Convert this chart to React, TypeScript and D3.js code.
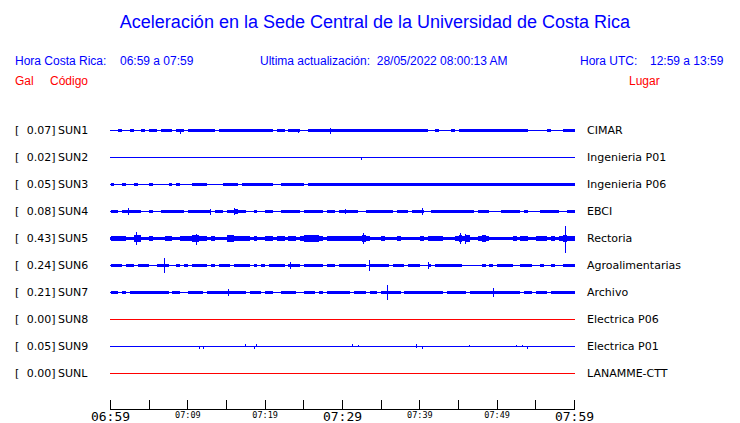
import React from "react";
import * as d3 from "d3";

const title = "Aceleración en la Sede Central de la Universidad de Costa Rica";
const crLabel = "Hora Costa Rica:";
const crRange = "06:59 a 07:59";
const updLabel = "Ultima actualización:  28/05/2022 08:00:13 AM";
const utcLabel = "Hora UTC:";
const utcRange = "12:59 a 13:59";
const colHeads = ["Gal", "Código", "Lugar"];

const codes = ["SUN1", "SUN2", "SUN3", "SUN4", "SUN5", "SUN6", "SUN7", "SUN8", "SUN9", "SUNL"];
const places = ["CIMAR", "Ingenieria P01", "Ingenieria P06", "EBCI", "Rectoria", "Agroalimentarias", "Archivo", "Electrica P06", "Electrica P01", "LANAMME-CTT"];
const peaks = [0.07, 0.02, 0.05, 0.08, 0.43, 0.24, 0.21, 0.0, 0.05, 0.0];
// base noise half-thickness per station (amplitude units)
const baseNoise = [0.5, 0.5, 0.5, 0.5, 1.5, 0.5, 0.5, 0.5, 0.5, 0.5];

// envelope level per 30-second bin (120 bins over the hour)
const envSUN1 = ["00100100", "10110", "11101101", "1111110111111", "22212221", "01101110", "011121122121", "11111211111211112111", "00100010", "11111111121111111100", "0001000111"];
const envSUN2 = [""];
const envSUN3 = ["1001001000100", "001010001111", "00001111011111111", "00111111011111111111", "1112111111", "1111211111", "1111111121", "1111111111", "1121111111", "11111111"];
const envSUN4 = ["1102211100100", "111211011222", "10110223220010011", "00111110222120110111", "11001112111011101120", "0", "11111111111", "0", "111", "00", "0", "11111", "0", "1", "000", "11111", "00", "11"];
const envSUN5 = ["2222", "00", "33", "00100", "0", "11", "00", "11", "2332", "1", "01000", "33", "1", "222", "0100", "11", "0", "22", "0", "22", "01", "3333", "10", "222221", "1", "2232", "000", "1", "00010000", "0", "1", "0", "1211", "000", "2323", "0", "0", "232", "000000", "1", "0", "11", "00", "222", "0", "1", "0", "232", "1"];
const envSUN6 = ["1110110111001", "220010101111", "01011101111010101", "121", "0", "21", "1", "0", "111", "11", "0", "1", "1", "0", "111", "1111", "0", "2", "11110", "111", "0111", "00", "2", "0", "1111111", "00000", "1", "0", "1", "0", "1111", "00", "111", "00", "1", "00", "1", "00", "111"];
const envSUN7 = ["11010", "11", "22211", "1", "11", "0", "1", "1", "0", "0", "1", "11", "1", "0", "111", "1121", "1", "11", "0", "1", "11", "0", "11", "0", "0", "1111", "00", "1", "11", "010", "222211", "0", "111", "0", "11", "0", "1", "2", "111", "0", "111111", "1111", "0", "1", "1111", "0", "11111", "12211", "111", "0", "11", "0", "111", "0", "111111"];
const envSUN8 = [""];
const envSUN9 = [""];
const envSUNL = [""];
const envelopes = [envSUN1, envSUN2, envSUN3, envSUN4, envSUN5, envSUN6, envSUN7, envSUN8, envSUN9, envSUNL];

// isolated spikes: [minute, up, down]
const spikesSUN1 = [[9.0, 0, 3], [24.3, 0, 2], [28.4, 2, 3]];
const spikesSUN2 = [[32.4, 0, 2]];
const spikesSUN3: number[][] = [];
const spikesSUN4 = [[2.2, 3, 3], [12.9, 2, 3], [16.0, 3, 3], [30.3, 2, 2], [40.3, 3, 3]];
const spikesSUN5 = [[3.35, 5, 5], [11.1, 3, 5], [32.6, 4, 4], [45.2, 4, 4], [45.9, 3, 4], [58.8, 11, 13]];
const spikesSUN6 = [[6.97, 7, 7], [23.2, 3, 3], [33.4, 5, 5], [41.0, 3, 3]];
const spikesSUN7 = [[15.2, 3, 3], [35.7, 7, 7], [49.4, 4, 4]];
const spikesSUN8: number[][] = [];
const spikesSUN9 = [[11.5, 0, 2], [11.9, 0, 2], [17.4, 2, 0], [18.5, 0, 2], [18.8, 2, 0], [31.2, 2, 0], [32.0, 1, 0], [39.5, 2, 1], [40.3, 0, 2], [46.3, 1, 0], [52.4, 1, 0], [53.2, 1, 0], [53.9, 0, 2]];
const spikesSUNL: number[][] = [];
const spikes = [spikesSUN1, spikesSUN2, spikesSUN3, spikesSUN4, spikesSUN5, spikesSUN6, spikesSUN7, spikesSUN8, spikesSUN9, spikesSUNL];

const spanMinutes = 60;
const binsPerMinute = 2;
const tickMinutes = d3.range(0, 61, 5);
const startTime = new Date(2022, 4, 28, 6, 59);

const BLUE = "#0000ff";
const RED = "#ff0000";

export default function App() {
  const W = 740, H = 423;
  const x = d3.scaleLinear().domain([0, spanMinutes]).range([110.5, 574.5]);
  const y = d3.scalePoint<string>().domain(codes).range([130.5, 373.5]);
  const lvl = d3.scaleLinear().domain([0, 1]).range([0, 0.7]);
  const fmt = d3.timeFormat("%H:%M");
  const nBins = spanMinutes * binsPerMinute;

  return (
    <svg width={W} height={H} style={{ position: "absolute", left: 0, top: 0, background: "#fff" }}>
      <text x={375} y={28} textAnchor="middle" fontFamily="Liberation Sans, Arial, sans-serif" fontSize={18} fill={BLUE}>{title}</text>
      <g fontFamily="Liberation Sans, Arial, sans-serif" fontSize={12} fill={BLUE}>
        <text x={15} y={65}>{crLabel}</text>
        <text x={120} y={65}>{crRange}</text>
        <text x={260} y={65} style={{ whiteSpace: "pre" }}>{updLabel}</text>
        <text x={580} y={65}>{utcLabel}</text>
        <text x={650} y={65}>{utcRange}</text>
      </g>
      <g fontFamily="Liberation Sans, Arial, sans-serif" fontSize={12} fill={RED}>
        <text x={15} y={85}>{colHeads[0]}</text>
        <text x={50} y={85}>{colHeads[1]}</text>
        <text x={629} y={85}>{colHeads[2]}</text>
      </g>

      {codes.map((c, k) => {
        const yc = y(c)!;
        const color = peaks[k] === 0 ? RED : BLUE;
        const levels = envelopes[k].join("").padEnd(nBins, "0").slice(0, nBins).split("").map(Number);
        const base = baseNoise[k];
        return (
          <g key={c}>
            <g fontFamily="DejaVu Sans, sans-serif" fontSize={11} fill="#000">
              <text x={15} y={yc + 3.5}>[</text>
              <text x={55.5} y={yc + 3.5} textAnchor="end">{peaks[k].toFixed(2) + "]"}</text>
              <text x={58} y={yc + 3.5}>{c}</text>
              <text x={587} y={yc + 3.5}>{places[k]}</text>
            </g>
            <g fill={color} shapeRendering="crispEdges">
              <rect x={x(0) - 0.5} y={yc - base} width={x(spanMinutes) - x(0) + 1} height={2 * base} />
              {levels.map((lv, i) => {
                if (lv === 0) return null;
                const x0 = x(i / binsPerMinute);
                const x1 = x((i + 1) / binsPerMinute);
                const h = base + lvl(lv);
                return <rect key={i} x={x0} y={yc - h} width={x1 - x0} height={2 * h} />;
              })}
            </g>
            <g stroke={color} strokeWidth={1} shapeRendering="crispEdges">
              {spikes[k].map((s, i) => (
                <line key={i} x1={Math.round(x(s[0])) + 0.5} x2={Math.round(x(s[0])) + 0.5} y1={yc - base - s[1]} y2={yc + base + s[2]} />
              ))}
            </g>
          </g>
        );
      })}

      <g stroke="#000" strokeWidth={1} shapeRendering="crispEdges">
        <line x1={x(0)} x2={x(spanMinutes)} y1={409.5} y2={409.5} />
        {tickMinutes.map((m) => (
          <line key={m} x1={Math.round(x(m) - 0.5) + 0.5} x2={Math.round(x(m) - 0.5) + 0.5} y1={400} y2={409.5} />
        ))}
      </g>
      <g fontFamily="DejaVu Sans Mono, monospace" fill="#000" textAnchor="middle">
        {tickMinutes.filter((m) => m % 10 === 0).map((m) => {
          const big = m % 30 === 0;
          const label = fmt(d3.timeMinute.offset(startTime, m));
          return (
            <text key={m} x={x(m)} y={big ? 421 : 418} fontSize={big ? 13 : 8.5}>{label}</text>
          );
        })}
      </g>
    </svg>
  );
}
